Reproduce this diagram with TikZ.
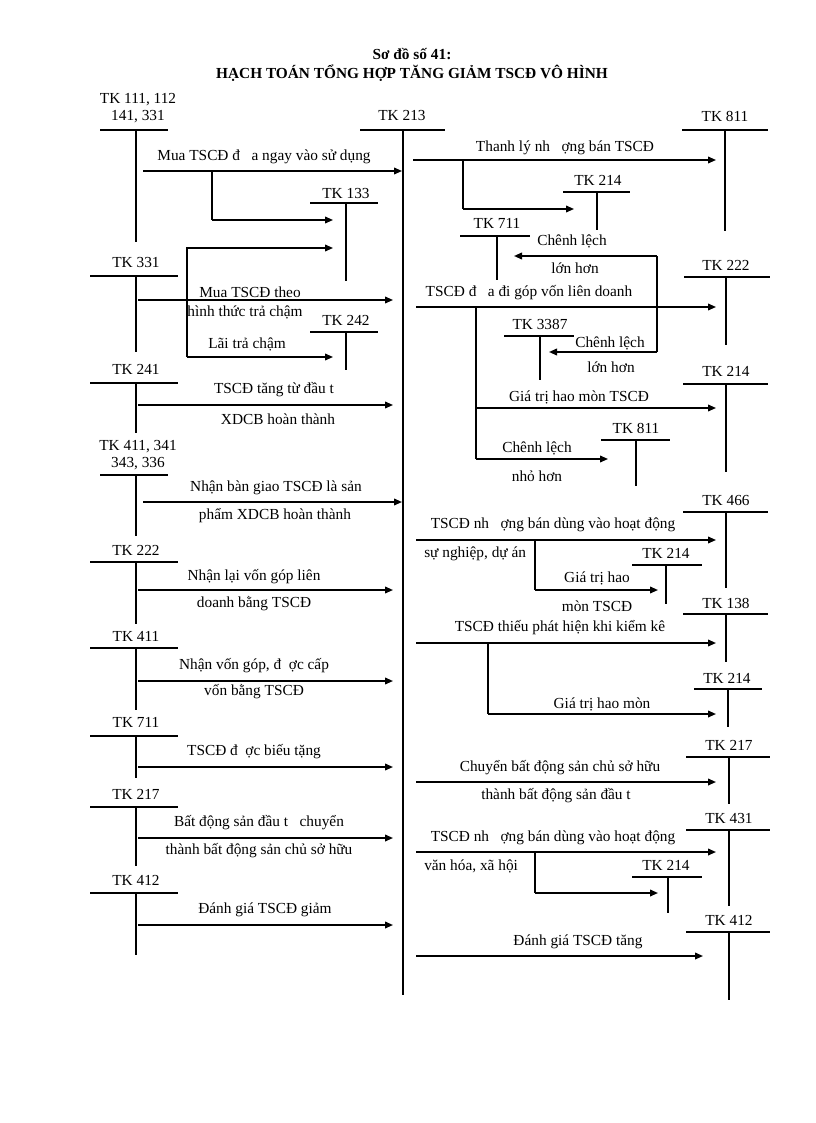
\documentclass[tikz,border=0pt]{standalone}
\usepackage{fontspec}
\setmainfont{Liberation Serif}
\usetikzlibrary{arrows.meta}
\begin{document}
\begin{tikzpicture}[x=0.75pt,y=-0.75pt,
  ar/.style={line width=1.2pt,-{Triangle[length=6pt,width=5pt]}},
  br/.style={line width=1.2pt},
  tb/.style={line width=1pt},
  tv/.style={line width=0.9pt},
  lb/.style={font=\fontsize{11.5}{13}\selectfont,inner sep=0pt},
  ll/.style={lb,anchor=west}]
\useasboundingbox (0,0) rectangle (816,1123);
\newcommand\tlab[3]{\node[lb,align=center] at (#1,#2) {#3};}
% title
\node[font=\bfseries\fontsize{11.5}{13}\selectfont] (t1) at (412,54) {Sơ đồ số 41:};
\node[font=\bfseries\fontsize{11.5}{13}\selectfont] (t2) at (412,73) {HẠCH TOÁN TỔNG HỢP TĂNG GIẢM TSCĐ VÔ HÌNH};
% center
\draw[tb] (360,130) -- (445,130); \draw[tv] (403,130) -- (403,995);
\tlab{402}{116}{TK 213}
% left accounts
\draw[tb] (100,130) -- (168,130); \draw[tv] (136,130) -- (136,242);
\tlab{138}{108}{TK 111, 112\\141, 331}
\draw[tb] (90,276) -- (178,276); \draw[tv] (136,276) -- (136,352);
\tlab{136}{262}{TK 331}
\draw[tb] (90,383) -- (178,383); \draw[tv] (136,383) -- (136,433);
\tlab{136}{369}{TK 241}
\draw[tb] (100,475) -- (168,475); \draw[tv] (136,475) -- (136,536);
\tlab{138}{455}{TK 411, 341\\343, 336}
\draw[tb] (90,562) -- (178,562); \draw[tv] (136,562) -- (136,624);
\tlab{136}{550}{TK 222}
\draw[tb] (90,648) -- (178,648); \draw[tv] (136,648) -- (136,710);
\tlab{136}{636}{TK 411}
\draw[tb] (90,736) -- (178,736); \draw[tv] (136,736) -- (136,778);
\tlab{136}{722}{TK 711}
\draw[tb] (90,807) -- (178,807); \draw[tv] (136,807) -- (136,866);
\tlab{136}{794}{TK 217}
\draw[tb] (90,893) -- (178,893); \draw[tv] (136,893) -- (136,955);
\tlab{136}{880}{TK 412}
% TK 133, 242
\draw[tb] (310,203) -- (378,203); \draw[tv] (346,203) -- (346,281);
\tlab{346}{193}{TK 133}
\draw[tb] (310,332) -- (378,332); \draw[tv] (346,332) -- (346,370);
\tlab{346}{320}{TK 242}
% left arrows
\draw[ar] (143,171) -- (402,171); \tlab{264}{157}{Mua TSCĐ đ\ \ \ a ngay vào sử dụng}
\draw[br] (212,171) -- (212,220); \draw[ar] (212,220) -- (333,220);
\draw[ar] (187,357) -- (187,248) -- (333,248);
\draw[ar] (187,357) -- (333,357); \tlab{247}{344}{Lãi trả chậm}
\draw[ar] (138,300) -- (393,300); \tlab{250}{292}{Mua TSCĐ theo} \tlab{245}{312}{hình thức trả chậm}
\draw[ar] (138,405) -- (393,405); \tlab{274}{390}{TSCĐ tăng từ đầu t} \tlab{278}{419}{XDCB hoàn thành}
\draw[ar] (143,502) -- (402,502); \tlab{276}{488}{Nhận bàn giao TSCĐ là sản} \tlab{275}{516}{phẩm XDCB hoàn thành}
\draw[ar] (138,590) -- (393,590); \tlab{254}{577}{Nhận lại vốn góp liên} \tlab{254}{604}{doanh bằng TSCĐ}
\draw[ar] (138,681) -- (393,681); \tlab{254}{666}{Nhận vốn góp, đ\ \ ợc cấp} \tlab{254}{692}{vốn bằng TSCĐ}
\draw[ar] (138,767) -- (393,767); \tlab{254}{752}{TSCĐ đ\ \ ợc biếu tặng}
\draw[ar] (138,838) -- (393,838); \tlab{259}{823}{Bất động sản đầu t\ \ \ chuyển} \tlab{259}{851}{thành bất động sản chủ sở hữu}
\draw[ar] (138,925) -- (393,925); \tlab{265}{910}{Đánh giá TSCĐ giảm}
% right accounts
\draw[tb] (682,130) -- (768,130); \draw[tv] (725,130) -- (725,231); \tlab{725}{116}{TK 811}
\draw[tb] (563,192) -- (630,192); \draw[tv] (597,192) -- (597,230); \tlab{598}{180}{TK 214}
\draw[tb] (460,236) -- (530,236); \draw[tv] (497,236) -- (497,280); \tlab{497}{223}{TK 711}
\draw[tb] (684,277) -- (770,277); \draw[tv] (726,277) -- (726,345); \tlab{726}{265}{TK 222}
\draw[tb] (504,336) -- (574,336); \draw[tv] (540,336) -- (540,380); \tlab{540}{324}{TK 3387}
\draw[tb] (683,384) -- (768,384); \draw[tv] (726,384) -- (726,472); \tlab{726}{371}{TK 214}
\draw[tb] (601,440) -- (670,440); \draw[tv] (636,440) -- (636,486); \tlab{636}{428}{TK 811}
\draw[tb] (683,512) -- (768,512); \draw[tv] (726,512) -- (726,588); \tlab{726}{500}{TK 466}
\draw[tb] (632,565) -- (702,565); \draw[tv] (666,565) -- (666,604); \tlab{666}{553}{TK 214}
\draw[tb] (683,614) -- (768,614); \draw[tv] (726,614) -- (726,662); \tlab{726}{603}{TK 138}
\draw[tb] (694,689) -- (762,689); \draw[tv] (728,689) -- (728,727); \tlab{727}{678}{TK 214}
\draw[tb] (686,757) -- (770,757); \draw[tv] (729,757) -- (729,804); \tlab{729}{745}{TK 217}
\draw[tb] (686,830) -- (770,830); \draw[tv] (729,830) -- (729,906); \tlab{729}{818}{TK 431}
\draw[tb] (632,877) -- (702,877); \draw[tv] (668,877) -- (668,913); \tlab{666}{865}{TK 214}
\draw[tb] (686,932) -- (770,932); \draw[tv] (729,932) -- (729,1000); \tlab{729}{920}{TK 412}
% right arrows
\draw[ar] (413,160) -- (716,160); \tlab{565}{148}{Thanh lý nh\ \ \ ợng bán TSCĐ}
\draw[br] (463,160) -- (463,209); \draw[ar] (463,209) -- (574,209);
\draw[ar] (657,256) -- (514,256); \tlab{572}{241}{Chênh lệch} \tlab{575}{268}{lớn hơn}
\draw[br] (657,256) -- (657,352); \draw[ar] (657,352) -- (549,352);
\tlab{610}{343}{Chênh lệch} \tlab{611}{367}{lớn hơn}
\draw[ar] (416,307) -- (716,307); \tlab{529}{293}{TSCĐ đ\ \ \ a đi góp vốn liên doanh}
\draw[br] (476,307) -- (476,459);
\draw[ar] (476,408) -- (716,408); \tlab{579}{397}{Giá trị hao mòn TSCĐ}
\draw[ar] (476,459) -- (608,459); \tlab{537}{448}{Chênh lệch} \tlab{537}{476}{nhỏ hơn}
\draw[ar] (416,540) -- (716,540); \tlab{553}{525}{TSCĐ nh\ \ \ ợng bán dùng vào hoạt động}
\node[ll] at (424,554) {sự nghiệp, dự án};
\draw[br] (535,540) -- (535,590); \draw[ar] (535,590) -- (658,590);
\tlab{597}{578}{Giá trị hao} \tlab{597}{606}{mòn TSCĐ}
\draw[ar] (416,643) -- (716,643); \tlab{560}{628}{TSCĐ thiếu phát hiện khi kiểm kê}
\draw[br] (488,643) -- (488,714); \draw[ar] (488,714) -- (716,714); \tlab{602}{704}{Giá trị hao mòn}
\draw[ar] (416,782) -- (716,782); \tlab{560}{768}{Chuyển bất động sản chủ sở hữu} \tlab{556}{796}{thành bất động sản đầu t}
\draw[ar] (416,852) -- (716,852); \tlab{553}{838}{TSCĐ nh\ \ \ ợng bán dùng vào hoạt động}
\node[ll] at (424,866) {văn hóa, xã hội};
\draw[br] (535,852) -- (535,893); \draw[ar] (535,893) -- (658,893);
\draw[ar] (416,956) -- (703,956); \tlab{578}{942}{Đánh giá TSCĐ tăng}
\end{tikzpicture}
\end{document}
